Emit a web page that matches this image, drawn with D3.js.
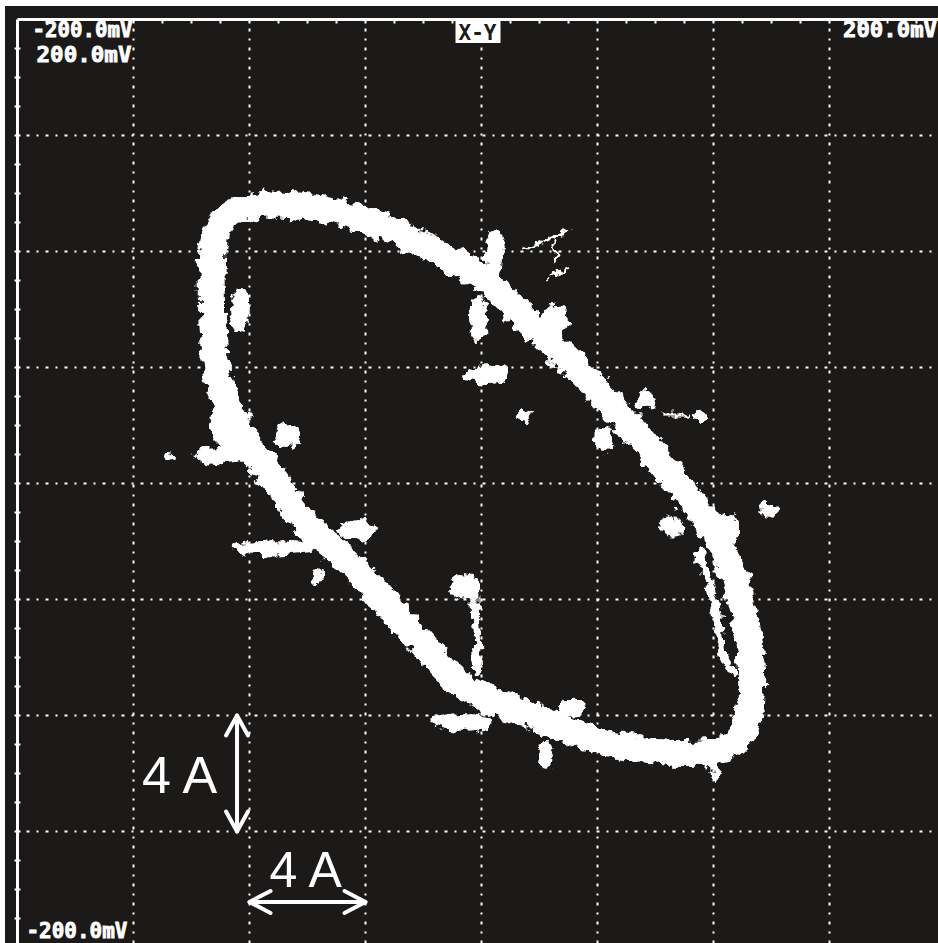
<!DOCTYPE html>
<html>
<head>
<meta charset="utf-8">
<script src="https://cdn.jsdelivr.net/npm/d3@7"></script>
<style>
    html, body { margin: 0; padding: 0; background: #fff; }
    svg { display: block; }
</style>
</head>
<body>
<div id="chart"></div>
<script>
// X-Y trace, both axes in amperes (4 A / div, 8 div)
var traceX = [-9.28, -9.21, -8.90, -8.34, -7.59, -6.62, -5.83, -4.90, -4.10, -3.17, -2.38, -1.45, -0.66,
    0.28, 1.14, 2.00, 2.86, 3.72, 4.59, 5.45, 6.31, 7.17, 7.86, 8.38, 8.83, 9.14, 9.31, 9.24, 8.90,
    8.21, 7.17, 6.14, 5.10, 4.07, 2.93, 1.83, 0.62, -0.41, -1.28, -2.14, -3.00, -3.79, -4.72, -5.76,
    -6.45, -7.03, -7.72, -8.34, -8.86, -9.14, -9.24, -9.28];
var traceY = [7.62, 8.45, 9.07, 9.45, 9.59, 9.59, 9.52, 9.34, 9.10, 8.79, 8.38, 7.97, 7.52,
    6.90, 6.07, 5.21, 4.38, 3.55, 2.59, 1.59, 0.55, -0.52, -1.45, -2.38, -3.52, -4.90, -6.45, -7.83, -8.79,
    -9.21, -9.31, -9.28, -9.14, -8.90, -8.48, -8.03, -7.59, -7.14, -6.38, -5.41, -4.48, -3.52, -2.59, -1.69,
    -0.86, 0.00, 0.86, 1.83, 2.86, 3.90, 5.10, 6.31];

// noise spots beside the trace: centre and half extent, amperes
var blobX  = [0.43, -0.12, 0.19, 1.43, 5.64, 7.53, 2.53, 6.57, 9.95, 8.40, -8.33, -9.00, -10.81, -6.71,
    -7.10, -5.64, -4.26, -0.57, -0.67, 2.22, 8.05, 3.12, -8.67, 4.26];
var blobY  = [7.88, 5.71, 3.74, 2.36, 2.88, 2.33, 5.57, -1.50, -0.91, -1.53, 5.98, 0.98, 0.95, 1.67,
    -2.22, -3.16, -1.60, -3.60, -8.22, -9.36, -9.71, -7.74, 2.02, 1.57];
var blobRX = [0.31, 0.31, 0.76, 0.24, 0.28, 0.24, 0.45, 0.45, 0.34, 0.48, 0.34, 1.00, 0.17, 0.45,
    1.50, 0.14, 0.69, 0.52, 1.10, 0.28, 0.17, 0.48, 0.69, 0.34];
var blobRY = [0.93, 0.76, 0.34, 0.17, 0.34, 0.21, 0.55, 0.34, 0.24, 0.55, 0.76, 0.28, 0.14, 0.41,
    0.26, 0.28, 0.34, 0.41, 0.31, 0.48, 0.48, 0.28, 0.83, 0.41];

// stray strands
var thinStrands = [
    [[1.43, 8.05], [2.98, 8.74]],
    [[2.47, 8.40], [2.60, 7.64]],
    [[2.26, 7.12], [2.98, 7.43]],
    [[6.16, 2.36], [7.19, 2.36]]
];
var heavyStrands = [
    [[7.53, -2.40], [7.98, -3.91], [8.33, -5.98], [8.67, -6.53]],
    [[-0.22, -3.67], [-0.12, -6.43]]
];

var gridValues = [-12, -8, -4, 0, 4, 8, 12];
var minorValues = d3.range(-15, 16, 1);
var xMinLabel = '-200.0mV', xMaxLabel = '200.0mV';
var yMinLabel = '-200.0mV', yMaxLabel = '200.0mV';
var modeLabel = 'X-Y';
var scaleLabel = '4 A';

var width = 938, height = 943, div = 116;

var x = d3.scaleLinear().domain([-16, 16]).range([17.5, 17.5 + 8 * div]);
var y = d3.scaleLinear().domain([-16, 16]).range([19.5 + 8 * div, 19.5]);

var svg = d3.select('#chart')
    .append('svg')
    .attr('width', width)
    .attr('height', height);

svg.append('rect')
    .attr('width', width).attr('height', height)
    .attr('fill', '#fff');
svg.append('rect')
    .attr('x', 5).attr('y', 6)
    .attr('width', width - 5).attr('height', height - 6)
    .attr('fill', '#1c1a19');

var defs = svg.append('defs');
defs.append('clipPath').attr('id', 'screen')
    .append('rect')
    .attr('x', x(-16)).attr('y', y(16))
    .attr('width', width).attr('height', height);

var rough = defs.append('filter').attr('id', 'rough')
    .attr('x', '-10%').attr('y', '-10%').attr('width', '120%').attr('height', '120%');
rough.append('feTurbulence')
    .attr('type', 'fractalNoise')
    .attr('baseFrequency', 0.1)
    .attr('numOctaves', 3)
    .attr('seed', 7)
    .attr('result', 'noise');
rough.append('feDisplacementMap')
    .attr('in', 'SourceGraphic')
    .attr('in2', 'noise')
    .attr('scale', 14)
    .attr('xChannelSelector', 'R')
    .attr('yChannelSelector', 'G');

// grid
var grid = svg.append('g').attr('clip-path', 'url(#screen)')
    .attr('stroke', '#fff').attr('stroke-width', 2)
    .attr('stroke-dasharray', '2,7,3,7');

grid.selectAll('line.v')
    .data(gridValues)
    .enter()
    .append('line')
    .attr('class', 'v')
    .attr('x1', function (d) { return x(d); })
    .attr('x2', function (d) { return x(d); })
    .attr('y1', y(16))
    .attr('y2', y(-16));

grid.selectAll('line.h')
    .data(gridValues)
    .enter()
    .append('line')
    .attr('class', 'h')
    .attr('y1', function (d) { return y(d); })
    .attr('y2', function (d) { return y(d); })
    .attr('x1', x(-16))
    .attr('x2', x(16));

// frame and its minor ticks
var frame = svg.append('g').attr('stroke', '#fff');
frame.append('line')
    .attr('x1', x(-16)).attr('x2', width)
    .attr('y1', y(16)).attr('y2', y(16))
    .attr('stroke-width', 3);
frame.append('line')
    .attr('x1', x(-16)).attr('x2', x(-16))
    .attr('y1', y(16)).attr('y2', height)
    .attr('stroke-width', 3);
frame.selectAll('line.tx')
    .data(minorValues)
    .enter()
    .append('line')
    .attr('class', 'tx')
    .attr('stroke-width', 2)
    .attr('x1', function (d) { return x(d); })
    .attr('x2', function (d) { return x(d); })
    .attr('y1', y(16))
    .attr('y2', y(16) + 4);
frame.selectAll('line.ty')
    .data(minorValues)
    .enter()
    .append('line')
    .attr('class', 'ty')
    .attr('stroke-width', 2)
    .attr('y1', function (d) { return y(d); })
    .attr('y2', function (d) { return y(d); })
    .attr('x1', x(-16) - 3)
    .attr('x2', x(-16) + 3);

// trace
var trace = svg.append('g')
    .attr('clip-path', 'url(#screen)')
    .append('g')
    .attr('filter', 'url(#rough)');

var pts = traceX.map(function (d, i) { return [d, traceY[i]]; });
var line = d3.line()
    .x(function (d) { return x(d[0]); })
    .y(function (d) { return y(d[1]); })
    .curve(d3.curveCatmullRomClosed);
var openLine = d3.line()
    .x(function (d) { return x(d[0]); })
    .y(function (d) { return y(d[1]); });

trace.append('path')
    .attr('d', line(pts))
    .attr('fill', 'none')
    .attr('stroke', '#fff')
    .attr('stroke-width', 27)
    .attr('stroke-linejoin', 'round');

trace.selectAll('ellipse')
    .data(blobX)
    .enter()
    .append('ellipse')
    .attr('cx', function (d) { return x(d); })
    .attr('cy', function (d, i) { return y(blobY[i]); })
    .attr('rx', function (d, i) { return x(blobRX[i]) - x(0); })
    .attr('ry', function (d, i) { return y(0) - y(blobRY[i]); })
    .attr('fill', '#fff');

trace.selectAll('path.thin')
    .data(thinStrands)
    .enter()
    .append('path')
    .attr('class', 'thin')
    .attr('d', openLine)
    .attr('fill', 'none')
    .attr('stroke', '#fff')
    .attr('stroke-width', 3);

trace.selectAll('path.heavy')
    .data(heavyStrands)
    .enter()
    .append('path')
    .attr('class', 'heavy')
    .attr('d', openLine)
    .attr('fill', 'none')
    .attr('stroke', '#fff')
    .attr('stroke-width', 8)
    .attr('stroke-linecap', 'round');

// readouts
var mono = 'DejaVu Sans Mono, monospace';
function readout(txt, xe, base, len) {
    svg.append('text')
        .attr('x', xe - len)
        .attr('y', base)
        .attr('textLength', len)
        .attr('lengthAdjust', 'spacingAndGlyphs')
        .attr('font-family', mono)
        .attr('font-weight', 'bold')
        .attr('font-size', 21)
        .attr('fill', '#fff')
        .attr('stroke', '#fff')
        .attr('stroke-width', 0.8)
        .text(txt);
}
readout(xMinLabel, x(-12) - 1, 37, 100);
readout(yMaxLabel, x(-12) - 2, 62, 95);
readout(xMaxLabel, width - 1, 37, 94);
readout(yMinLabel, x(-12) - 6, 938, 101);

svg.append('rect')
    .attr('x', x(0) - 26).attr('y', 21)
    .attr('width', 45).attr('height', 22)
    .attr('fill', '#fff');
svg.append('text')
    .attr('x', x(0) - 4).attr('y', 40)
    .attr('text-anchor', 'middle')
    .attr('font-family', mono)
    .attr('font-weight', 'bold')
    .attr('font-size', 21)
    .attr('fill', '#1c1a19')
    .text(modeLabel);

// 4 A scale arrows
var arrows = svg.append('g')
    .attr('stroke', '#fff').attr('stroke-width', 4)
    .attr('fill', 'none').attr('stroke-linecap', 'round').attr('stroke-linejoin', 'round');

var ax = x(-8.43), ay1 = y(-8), ay2 = y(-12);
arrows.append('line').attr('x1', ax).attr('x2', ax).attr('y1', ay1).attr('y2', ay2);
arrows.append('path').attr('d', 'M' + (ax - 11) + ',' + (ay1 + 20) + 'L' + ax + ',' + ay1 + 'L' + (ax + 11) + ',' + (ay1 + 20));
arrows.append('path').attr('d', 'M' + (ax - 11) + ',' + (ay2 - 20) + 'L' + ax + ',' + ay2 + 'L' + (ax + 11) + ',' + (ay2 - 20));

var hy = y(-14.43), hx1 = x(-8), hx2 = x(-4);
arrows.append('line').attr('x1', hx1).attr('x2', hx2).attr('y1', hy).attr('y2', hy);
arrows.append('path').attr('d', 'M' + (hx1 + 21) + ',' + (hy - 11) + 'L' + hx1 + ',' + hy + 'L' + (hx1 + 21) + ',' + (hy + 11));
arrows.append('path').attr('d', 'M' + (hx2 - 21) + ',' + (hy - 11) + 'L' + hx2 + ',' + hy + 'L' + (hx2 - 21) + ',' + (hy + 11));

var sans = 'Liberation Sans, Arial, sans-serif';
svg.append('text')
    .attr('x', ax - 95).attr('y', (ay1 + ay2) / 2 + 19)
    .attr('font-family', sans).attr('font-size', 52)
    .attr('fill', '#fff')
    .text(scaleLabel);
svg.append('text')
    .attr('x', (hx1 + hx2) / 2 - 38).attr('y', hy - 15)
    .attr('font-family', sans).attr('font-size', 50)
    .attr('fill', '#fff')
    .text(scaleLabel);
</script>
</body>
</html>
